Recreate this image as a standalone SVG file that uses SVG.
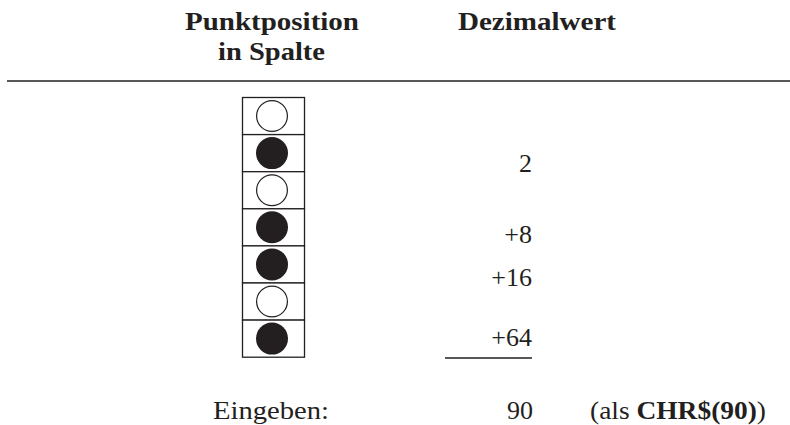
<svg xmlns="http://www.w3.org/2000/svg" width="790" height="425" viewBox="0 0 790 425">
<style>
text{font-family:"Liberation Serif","Times New Roman",serif;fill:#231f20;font-size:26px}
.b{font-weight:bold}
.r{text-anchor:end}
.ln{stroke:#231f20;stroke-width:1.5;fill:none}
.cell{fill:#fff;stroke:#231f20;stroke-width:1.3}
.off{fill:#fff;stroke:#231f20;stroke-width:1.2}
.on{fill:#231f20}
</style>
<rect width="790" height="425" fill="#fff"/>
<g id="header">
<text class="b" x="185" y="30" textLength="174" lengthAdjust="spacingAndGlyphs">Punktposition</text>
<text class="b" x="218" y="60" textLength="107" lengthAdjust="spacingAndGlyphs">in Spalte</text>
<text class="b" x="458" y="30" textLength="158" lengthAdjust="spacingAndGlyphs">Dezimalwert</text>
<line class="ln" x1="7" y1="81" x2="790" y2="81"/>
</g>
<g id="column">
<rect class="cell" x="242.5" y="97.5" width="62" height="37.1"/>
<rect class="cell" x="242.5" y="134.6" width="62" height="37.1"/>
<rect class="cell" x="242.5" y="171.7" width="62" height="37.1"/>
<rect class="cell" x="242.5" y="208.8" width="62" height="37.1"/>
<rect class="cell" x="242.5" y="245.9" width="62" height="37.1"/>
<rect class="cell" x="242.5" y="283" width="62" height="37.1"/>
<rect class="cell" x="242.5" y="320.1" width="62" height="37.1"/>
<circle class="off" cx="272" cy="116" r="15.4"/>
<circle class="on" cx="272" cy="153.1" r="16"/>
<circle class="off" cx="272" cy="190.2" r="15.4"/>
<circle class="on" cx="272" cy="227.3" r="16"/>
<circle class="on" cx="272" cy="264.4" r="16"/>
<circle class="off" cx="272" cy="301.5" r="15.4"/>
<circle class="on" cx="272" cy="338.6" r="16"/>
</g>
<g id="values">
<text class="r" x="532" y="172">2</text>
<text class="r" x="532" y="243">+8</text>
<text class="r" x="532" y="286">+16</text>
<text class="r" x="532" y="346">+64</text>
<line class="ln" x1="445" y1="358" x2="532" y2="358" style="stroke-width:1.3"/>
</g>
<g id="result">
<text x="213" y="419" textLength="116" lengthAdjust="spacingAndGlyphs">Eingeben:</text>
<text class="r" x="533" y="419">90</text>
<text x="590" y="419" textLength="176" lengthAdjust="spacingAndGlyphs">(als <tspan class="b">CHR$(90)</tspan>)</text>
</g>
</svg>
